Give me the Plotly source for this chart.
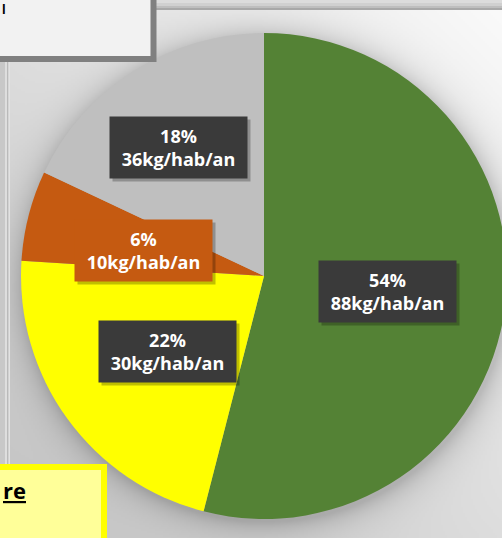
import base64
import struct
import zlib

import numpy as np
import plotly.graph_objects as go

# ---------------- data ----------------
labels = ["88kg/hab/an", "30kg/hab/an", "10kg/hab/an", "36kg/hab/an"]
shares = [54, 22, 6, 18]
pct_text = ["54%", "22%", "6%", "18%"]
slice_colors = ["#548235", "#FFFF00", "#C55A11", "#BFBFBF"]
label_bg = ["#3A3A3A", "#3A3A3A", "#C55A11", "#3A3A3A"]
label_center_px = [(387, 291), (167, 351), (143, 250), (178, 147)]

# ---------------- geometry helpers ----------------
W, H = 530, 538
CX, CY, R = 264, 276, 243


def px(x):
    return x / W


def py(y):
    return 1 - y / H


# ---------------- background gradient image ----------------
def make_png(arr):
    h, w, _ = arr.shape
    raw = b"".join(b"\x00" + arr[i].tobytes() for i in range(h))

    def chunk(t, d):
        c = struct.pack(">I", len(d)) + t + d
        return c + struct.pack(">I", zlib.crc32(t + d) & 0xFFFFFFFF)

    png = (b"\x89PNG\r\n\x1a\n"
           + chunk(b"IHDR", struct.pack(">IIBBBBB", w, h, 8, 2, 0, 0, 0))
           + chunk(b"IDAT", zlib.compress(raw, 9))
           + chunk(b"IEND", b""))
    return "data:image/png;base64," + base64.b64encode(png).decode()


S = 2
xs = (np.arange(W // S) + 0.5) * S
ys = (np.arange(H // S) + 0.5) * S
X, Y = np.meshgrid(xs, ys)
t = ((W - X) + Y) / (W + H)
base = 252 - 58 * t
dist = np.hypot(X - CX - 2, Y - CY - 3) - R
shade = np.where(dist > 0, 42 * np.exp(-np.clip(dist, 0, None) / 14), 42)
val = np.clip(base - shade, 0, 255).astype(np.uint8)
img = np.stack([val, val, val], axis=-1)
bg_src = make_png(img)

# ---------------- figure ----------------
fig = go.Figure()
fig.add_trace(go.Pie(
    labels=labels,
    values=shares,
    sort=False,
    direction="clockwise",
    rotation=0,
    marker=dict(colors=slice_colors, line=dict(width=0)),
    textinfo="none",
    hoverinfo="label+percent",
    showlegend=False,
    domain=dict(x=[px(CX - R), px(CX + R)], y=[py(CY + R), py(CY - R)]),
))

shapes = []
# top band
band = [(0, 3, "#dcdcdc"), (3, 6, "#d0d0d0"), (6, 8, "#bebebe"), (8, 10, "#a8a8a8")]
for y0, y1, c in band:
    shapes.append(dict(type="rect", xref="paper", yref="paper", layer="above",
                       x0=px(150), x1=px(W), y0=py(y1), y1=py(y0),
                       fillcolor=c, line=dict(width=0)))
# left strip
strip = [(0, 5, "#c8c8c8"), (5, 7, "#dedede"), (7, 8.5, "#bababa"), (8.5, 10, "#e2e2e2")]
for x0, x1, c in strip:
    shapes.append(dict(type="rect", xref="paper", yref="paper", layer="above",
                       x0=px(x0), x1=px(x1), y0=py(H), y1=py(0),
                       fillcolor=c, line=dict(width=0)))
# top-left box
shapes.append(dict(type="rect", xref="paper", yref="paper", layer="above",
                   x0=px(-10), x1=px(153.5), y0=py(59), y1=py(-10),
                   fillcolor="#f2f2f2", line=dict(color="#808080", width=6)))
# bottom-left yellow box
shapes.append(dict(type="rect", xref="paper", yref="paper", layer="above",
                   x0=px(-10), x1=px(104), y0=py(H + 20), y1=py(467),
                   fillcolor="#ffff99", line=dict(color="#ffff00", width=6)))

annotations = []
BW, BH = 137, 61
for (cx, cy), p, k, bg in zip(label_center_px, pct_text, labels, label_bg):
    # drop shadow
    shapes.append(dict(type="rect", xref="paper", yref="paper", layer="above",
                       x0=px(cx - BW / 2 + 3), x1=px(cx + BW / 2 + 4),
                       y0=py(cy + BH / 2 + 4), y1=py(cy - BH / 2 + 3),
                       fillcolor="rgba(0,0,0,0.25)", line=dict(width=0)))
    annotations.append(dict(
        xref="paper", yref="paper", x=px(cx), y=py(cy),
        xanchor="center", yanchor="middle", showarrow=False,
        text=f"<b>{p}</b><br><b>{k}</b>",
        font=dict(family="Open Sans, sans-serif", size=18, color="white"),
        bgcolor=bg, width=BW - 2, height=BH - 2, borderpad=1,
        align="center",
    ))

annotations.append(dict(
    xref="paper", yref="paper", x=px(1), y=py(507),
    xanchor="left", yanchor="bottom", showarrow=False,
    text="<b><u>re</u></b>",
    font=dict(family="Open Sans, sans-serif", size=22, color="black"),
))
annotations.append(dict(
    xref="paper", yref="paper", x=px(0), y=py(-1),
    xanchor="left", yanchor="top", showarrow=False,
    text="<b>l</b>",
    font=dict(family="Open Sans, sans-serif", size=12, color="black"),
))

fig.update_layout(
    width=W, height=H,
    margin=dict(l=0, r=0, t=0, b=0),
    paper_bgcolor="#e6e6e6",
    plot_bgcolor="#e6e6e6",
    shapes=shapes,
    annotations=annotations,
    images=[dict(source=bg_src, xref="paper", yref="paper", x=0, y=1,
                 sizex=1, sizey=1, xanchor="left", yanchor="top",
                 sizing="stretch", layer="below")],
)

fig.write_html(
    "out.html",
    config={"displayModeBar": False},
    post_script="document.body.style.margin='0';document.body.style.overflow='hidden';"
                "document.documentElement.style.overflow='hidden';",
)
